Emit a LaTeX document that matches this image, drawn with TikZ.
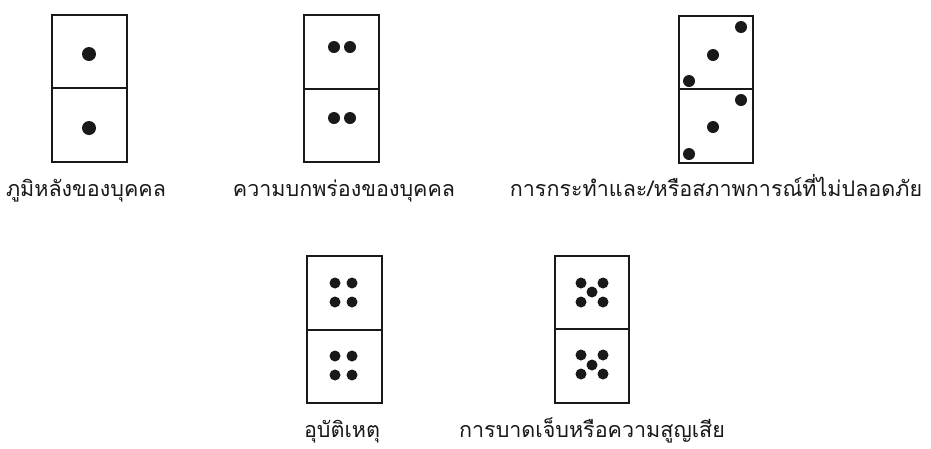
\documentclass[tikz,border=0pt]{standalone}
\usepackage{fontspec}
\newfontfamily\thaifont[Script=Thai]{Loma}
\begin{document}
\begin{tikzpicture}[x=1pt,y=-1pt,
  tile/.style={draw=black!90,line width=2pt,fill=white,minimum width=75,minimum height=147,inner sep=0pt},
  divider/.style={line width=2pt,draw=black!90},
  pip/.style={fill=black!90},
  lbl/.style={font=\thaifont\fontsize{21.5}{26}\selectfont,text=black!90,inner sep=0pt,anchor=base}]
\useasboundingbox[fill=white] (0,0) rectangle (931,448);
% domino 1
\node[tile] (d1) at (89.5,88.5) {};
\draw[divider] (d1.west |- 0,88) -- (d1.east |- 0,88);
\fill[pip] (89,54) circle (7);
\fill[pip] (89,128) circle (7);
% domino 2
\node[tile] (d2) at (341.5,88.5) {};
\draw[divider] (d2.west |- 0,89) -- (d2.east |- 0,89);
\foreach \x in {334,350}{\fill[pip] (\x,47) circle (6); \fill[pip] (\x,118) circle (6);}
% domino 3
\node[tile,minimum width=74] (d3) at (716,89.5) {};
\draw[divider] (d3.west |- 0,89) -- (d3.east |- 0,89);
\foreach \x/\y in {741/27,713/55,689/81,741/100,713/127,689/154}{\fill[pip] (\x,\y) circle (6);}
% domino 4
\node[tile] (d4) at (344.5,329.5) {};
\draw[divider] (d4.west |- 0,330) -- (d4.east |- 0,330);
\foreach \x in {335,352}{\foreach \y in {283,302,356,375}{\fill[pip] (\x,\y) circle (5.5);}}
% domino 5
\node[tile,minimum width=74] (d5) at (592,329.5) {};
\draw[divider] (d5.west |- 0,329) -- (d5.east |- 0,329);
\foreach \x/\y in {581/283,603/283,592/292,581/302,603/302,581/355,603/355,592/365,581/374,603/374}{\fill[pip] (\x,\y) circle (5.5);}
% labels
\node[lbl] (l1) at (86,196) {ภูมิหลังของบุคคล};
\node[lbl] (l2) at (344,196) {ความบกพร่องของบุคคล};
\node[lbl] (l3) at (716,196) {การกระทำและ/หรือสภาพการณ์ที่ไม่ปลอดภัย};
\node[lbl] (l4) at (342,437) {อุบัติเหตุ};
\node[lbl] (l5) at (592,437) {การบาดเจ็บหรือความสูญเสีย};
\end{tikzpicture}
\end{document}
